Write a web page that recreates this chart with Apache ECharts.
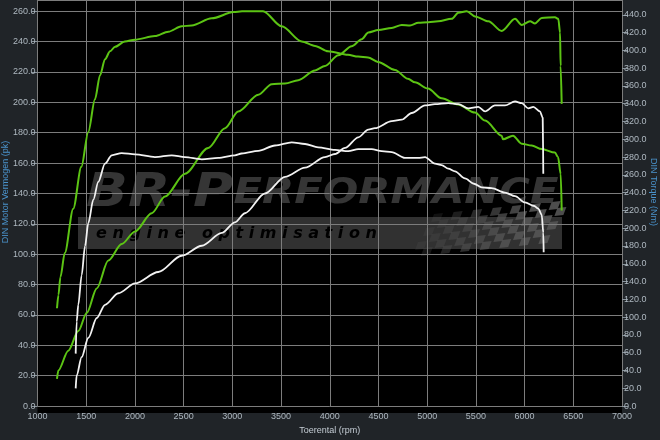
<!DOCTYPE html>
<html>
<head>
<meta charset="utf-8">
<script src="https://cdn.jsdelivr.net/npm/echarts@6/dist/echarts.min.js"></script>
<style>
html,body{margin:0;padding:0;background:#202428;}
#c{width:660px;height:440px;}
</style>
</head>
<body>
<div id="c"></div>
<script>
// ---- data ----
var xTicks = [1000,1500,2000,2500,3000,3500,4000,4500,5000,5500,6000,6500,7000];

// tuned torque (Nm, right axis)
var tunedTorqueRpm = [1200,1215,1235,1280,1367,1450,1521,1590,1642,1693,1745,1796,1898,2000,2206,2343,2480,2583,2788,3014,3100,3315,3507,3712,3849,3982,4187,4290,4393,4495,4670,4803,4875,5008,5149,5316,5491,5594,5765,5778,5881,5970,6073,6176,6312,6343,6371,6381];
var tunedTorqueNm  = [110,125,145,172,222,269,308,345,372,390,399,404,410,412,416,421,427,428,436,443,444,444,427,410,405,399,395,393,392,387,378,368,364,357,346,339,330,321,304,300,304,295,293,289,285,280,261,220];

// tuned power (pk, left axis)
var tunedPowerRpm = [1200,1214,1316,1419,1505,1608,1727,1864,2001,2172,2309,2514,2753,2925,3061,3267,3404,3541,3677,3849,3951,4088,4225,4328,4396,4498,4636,4739,4824,4909,5012,5114,5252,5320,5406,5491,5628,5765,5902,5970,6056,6107,6176,6312,6346,6364,6370,6381];
var tunedPowerPk  = [18,23.5,36.5,49.4,61.3,77.5,95.8,106.7,115,127,138,153,170,183,194,205,212,212.4,214.6,221,224,231,237,241.6,246,247.6,249,251,250.6,252.4,252.8,253.4,255,259,260,256.6,253.4,247,255,251,253.4,252,255.6,256,255,246,224,199];

// stock torque (Nm, right axis)
var stockTorqueRpm = [1392,1402,1419,1453,1488,1522,1573,1624,1693,1762,1864,2001,2206,2378,2514,2686,2856,3027,3096,3267,3438,3609,3746,3882,4054,4190,4293,4430,4533,4636,4772,4909,4978,5080,5149,5217,5286,5388,5480,5560,5662,5799,5902,6004,6100,6141,6176,6192,6196];
var stockTorqueNm  = [59,95,114,147,180,206,232,252,272.6,282,284.5,283,280,282,280,277.5,279,282,284,287,293,296.6,294.7,291,288,286.7,289,289,286.7,285.6,279,279,280,272.6,271,267,264,256,250,246,245,240,236,229,225,222,215,195,173];

// stock power (pk, left axis)
var stockPowerRpm = [1392,1402,1453,1522,1608,1693,1830,2001,2240,2480,2686,2891,3027,3130,3335,3541,3746,3951,4054,4157,4293,4396,4464,4636,4739,4841,4978,5080,5217,5320,5422,5525,5594,5696,5799,5902,5970,6038,6090,6158,6186,6192];
var stockPowerPk  = [11.7,20.3,32.2,45,58,66.7,74.3,80.8,88.3,99,105.6,114,121,127,140,151,157,164,166,170,177,182,183,187.6,188.6,193,198,198.8,199.5,198.8,196,197,194,198,198,200.6,199.5,196,197,194,190,153];

function pairs(xs, ys){ var out=[]; for(var i=0;i<xs.length;i++){ out.push([xs[i], ys[i]]); } return out; }

var GREEN = '#5cc414';
var WHITE = '#f2f2f2';
var LABEL = '#aeb8c0';
var NAMEC = '#4a93cc';
var FONT = 'Liberation Sans';

// ---- watermark decoration (semi-transparent so grid lines show through) ----
var deco = [];
deco.push({type:'rect', z:-100, shape:{x:37.5,y:0,width:584.5,height:413}, style:{fill:'#000'}});
deco.push({type:'rect', z:-60, shape:{x:78,y:217,width:484,height:32}, style:{fill:'rgba(58,58,58,0.85)'}});
deco.push({type:'text', z:-50, x:96, y:234, style:{
  text:'e n g i n e   o p t i m i s a t i o n', fill:'#000',
  font:'italic bold 16px "DejaVu Sans"', textVerticalAlign:'middle'}});
deco.push({type:'text', z:-50, x:86, y:194, scaleX:1.10, scaleY:0.92, style:{
  rich:{a:{fontSize:50,fontWeight:'bold',fontStyle:'italic',fontFamily:'DejaVu Sans',fill:'rgba(66,66,66,0.8)'},
        b:{fontSize:38,fontWeight:'bold',fontStyle:'italic',fontFamily:'DejaVu Sans',fill:'rgba(66,66,66,0.8)'}},
  text:'{a|BR-P}{b|ERFORMANCE}', textVerticalAlign:'middle'}});
// checkered flag
(function(){
  var cw=9, ch=7, rows=6, cols=14, x0=434, y0=214;
  for(var r=0;r<rows;r++){
    for(var c=0;c<cols;c++){
      if((r+c)%2) continue;
      var skew = -r*4 + c*0.8;
      var x = x0 + c*cw + skew, y = y0 + r*ch - c*1.0;
      var op = Math.min(0.9, 0.2 + c/cols);
      deco.push({type:'polygon', z:-55, shape:{points:[[x,y],[x+cw,y-1],[x+cw-3,y+ch],[x-3,y+ch+1]]},
        style:{fill:'rgba(85,85,85,'+op+')'}});
    }
  }
})();
// axis names
deco.push({type:'text', z:10, x:6, y:192, rotation:Math.PI/2, style:{text:'DIN Motor Vermogen (pk)', fill:NAMEC, font:'9px "'+FONT+'"', textAlign:'center', textVerticalAlign:'middle'}});
deco.push({type:'text', z:10, x:653, y:192, rotation:-Math.PI/2, style:{text:'DIN Torque (Nm)', fill:NAMEC, font:'9px "'+FONT+'"', textAlign:'center', textVerticalAlign:'middle'}});

var chart = echarts.init(document.getElementById('c'), null, {renderer:'canvas'});
chart.setOption({
  backgroundColor:'#202428',
  animation:false,
  textStyle:{fontFamily:FONT},
  graphic:{elements:deco},
  grid:{left:37.5, right:38, top:0, bottom:27, containLabel:false},
  xAxis:{
    type:'value', min:1000, max:7000, interval:500,
    name:'Toerental (rpm)', nameLocation:'middle', nameGap:18,
    nameTextStyle:{color:'#c4ccd4', fontSize:9, fontFamily:FONT},
    axisLine:{show:false}, axisTick:{show:false},
    axisLabel:{color:LABEL, fontSize:9, margin:6, fontFamily:FONT,
      formatter:function(v){ return xTicks.indexOf(v)>=0 ? String(v) : ''; }},
    splitLine:{show:true, lineStyle:{color:'#7c7c7c', width:1}}
  },
  yAxis:[{
    type:'value', min:0, max:267.4, interval:20, position:'left',
    axisLine:{show:false},
    axisTick:{show:true, length:6, lineStyle:{color:'#8a949c'}},
    axisLabel:{color:LABEL, fontSize:9, margin:2, fontFamily:FONT, showMaxLabel:false,
      formatter:function(v){ return v.toFixed(1); }},
    splitLine:{show:true, lineStyle:{color:'#7c7c7c', width:1}}
  },{
    type:'value', min:0, max:456.6, interval:20, position:'right',
    axisLine:{show:false},
    axisTick:{show:true, length:6, lineStyle:{color:'#8a949c'}},
    axisLabel:{color:LABEL, fontSize:9, margin:2, fontFamily:FONT, showMaxLabel:false,
      formatter:function(v){ return v.toFixed(1); }},
    splitLine:{show:false}
  }],
  series:[
    {type:'line', name:'Tuned torque', yAxisIndex:1, data:pairs(tunedTorqueRpm,tunedTorqueNm), showSymbol:false, smooth:0.3, smoothMonotone:'x', lineStyle:{color:GREEN,width:2}, z:3},
    {type:'line', name:'Tuned power', yAxisIndex:0, data:pairs(tunedPowerRpm,tunedPowerPk), showSymbol:false, smooth:0.3, smoothMonotone:'x', lineStyle:{color:GREEN,width:2}, z:3},
    {type:'line', name:'Stock torque', yAxisIndex:1, data:pairs(stockTorqueRpm,stockTorqueNm), showSymbol:false, smooth:0.3, smoothMonotone:'x', lineStyle:{color:WHITE,width:1.8}, z:4},
    {type:'line', name:'Stock power', yAxisIndex:0, data:pairs(stockPowerRpm,stockPowerPk), showSymbol:false, smooth:0.3, smoothMonotone:'x', lineStyle:{color:WHITE,width:1.8}, z:4}
  ]
});
</script>
</body>
</html>
